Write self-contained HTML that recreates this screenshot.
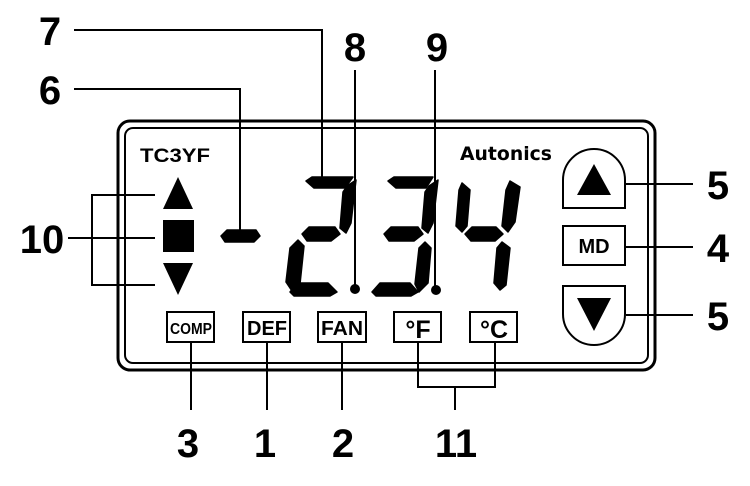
<!DOCTYPE html>
<html><head><style>html,body{margin:0;padding:0;background:#fff}svg{display:block}</style></head>
<body>
<svg width="750" height="486" viewBox="0 0 750 486" xmlns="http://www.w3.org/2000/svg" font-family="Liberation Sans, Arial, sans-serif">
<rect width="750" height="486" fill="#fff"/>
<rect x="118" y="121" width="537" height="249" rx="12" fill="none" stroke="#000" stroke-width="3"/>
<rect x="125" y="128" width="523" height="235" rx="8" fill="none" stroke="#000" stroke-width="2"/>
<g stroke="#000" stroke-width="2" fill="none">
<polyline points="74,30 322,30 322,178"/>
<polyline points="74,89 240,89 240,230"/>
<line x1="355" y1="70" x2="355" y2="289"/>
<line x1="435" y1="70" x2="435" y2="290"/>
<polyline points="155,195 92,195 92,285 155,285"/>
<line x1="68" y1="238" x2="155" y2="238"/>
<line x1="191" y1="342" x2="191" y2="410"/>
<line x1="267" y1="342" x2="267" y2="410"/>
<line x1="342" y1="342" x2="342" y2="410"/>
<polyline points="418,342 418,387 495,387 495,342"/>
<line x1="455" y1="387" x2="455" y2="410"/>
<line x1="626" y1="184" x2="693" y2="184"/>
<line x1="626" y1="247" x2="693" y2="247"/>
<line x1="626" y1="315" x2="693" y2="315"/>
</g>
<g font-weight="bold" font-size="40" fill="#000" text-anchor="middle">
<text x="50" y="45">7</text>
<text x="50" y="104">6</text>
<text x="355" y="61">8</text>
<text x="437" y="61">9</text>
<text x="42" y="253">10</text>
<text x="188" y="457">3</text>
<text x="265" y="457">1</text>
<text x="343" y="457">2</text>
<text x="456" y="457">11</text>
<text x="718" y="199">5</text>
<text x="718" y="262">4</text>
<text x="718" y="330">5</text>
</g>
<text x="140" y="162" font-size="19" font-weight="bold" textLength="70" lengthAdjust="spacingAndGlyphs">TC3YF</text>
<text x="460" y="160" font-size="19" font-weight="bold" font-family="DejaVu Sans, sans-serif" textLength="92" lengthAdjust="spacingAndGlyphs">Autonics</text>
<polygon points="178,177 193,209 163,209" fill="#000"/>
<rect x="163" y="220" width="31" height="32" fill="#000"/>
<polygon points="163,263 193,263 178,295" fill="#000"/>
<g fill="#000" stroke="#000" stroke-width="1.5" stroke-linejoin="round">
<polygon points="221,236 227,230 256,230 260,236 254,242 225,242"/>
<polygon points="306,181 312,177 353,177 345,188 314,188"/>
<polygon points="347,186 356,180 351,223 346,233 340,228 343,192"/>
<polygon points="302,234 309,227 335,227 340,234 331,241 307,241"/>
<polygon points="298,240 304,246 300,284 292,291 286,282 290,248"/>
<polygon points="290,292 297,283 328,283 337,292 330,296 294,296"/>
<polygon points="388,181 394,177 433,177 426,188 396,188"/>
<polygon points="429,186 438,180 433,223 428,233 422,228 425,192"/>
<polygon points="384,234 391,227 418,227 423,234 414,241 389,241"/>
<polygon points="425,242 431,248 428,283 419,292 415,284 419,248"/>
<polygon points="372,292 380,283 410,283 418,292 411,296 376,296"/>
<polygon points="462,183 470,190 467,226 462,232 456,226 459,190"/>
<polygon points="465,234 472,227 496,227 503,234 495,241 471,241"/>
<polygon points="510,181 520,187 515,222 508,232 502,226 506,190"/>
<polygon points="502,242 510,248 506,285 500,290 494,283 497,248"/>
</g>
<circle cx="355" cy="289" r="5" fill="#000"/>
<circle cx="436" cy="290" r="5" fill="#000"/>
<g fill="#fff" stroke="#000" stroke-width="2">
<rect x="167" y="312" width="47" height="30"/>
<rect x="243" y="312" width="47" height="30"/>
<rect x="318" y="312" width="48" height="30"/>
<rect x="394" y="312" width="47" height="30"/>
<rect x="470" y="312" width="47" height="30"/>
</g>
<g font-weight="bold" fill="#000" text-anchor="middle">
<text x="191" y="334" font-size="16" textLength="42" lengthAdjust="spacingAndGlyphs">COMP</text>
<text x="267" y="335" font-size="20" textLength="40" lengthAdjust="spacingAndGlyphs">DEF</text>
<text x="342" y="335" font-size="20" textLength="42" lengthAdjust="spacingAndGlyphs">FAN</text>
<text x="418" y="338" font-size="25">°F</text>
<text x="494" y="338" font-size="25">°C</text>
</g>
<g fill="#fff" stroke="#000" stroke-width="2">
<path d="M563,208 V180 A31,31 0 0 1 625,180 V208 Z"/>
<rect x="563" y="226" width="62" height="39"/>
<path d="M563,286 V314 A31,31 0 0 0 625,314 V286 Z"/>
</g>
<polygon points="594,164 611,195 577,195" fill="#000"/>
<polygon points="577,298 611,298 594,331" fill="#000"/>
<text x="594" y="253" font-size="20" font-weight="bold" text-anchor="middle">MD</text>
</svg>
</body></html>
